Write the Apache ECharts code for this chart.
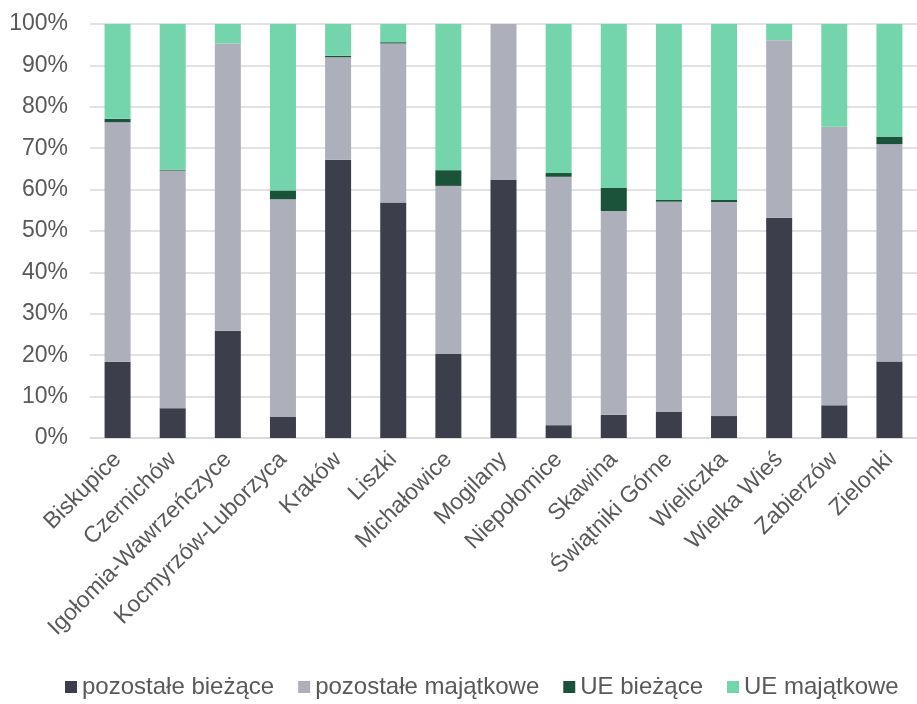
<!DOCTYPE html>
<html>
<head>
<meta charset="utf-8">
<script src="https://cdn.jsdelivr.net/npm/echarts@6/dist/echarts.min.js"></script>
<style>
  html, body { margin: 0; padding: 0; background: #ffffff; }
  #chart { width: 917px; height: 704px; }
</style>
</head>
<body>
<div id="chart"></div>
<script>
// Gminy (categories on the x axis)
const categories = [
  'Biskupice', 'Czernichów', 'Igołomia-Wawrzeńczyce', 'Kocmyrzów-Luborzyca',
  'Kraków', 'Liszki', 'Michałowice', 'Mogilany', 'Niepołomice', 'Skawina',
  'Świątniki Górne', 'Wieliczka', 'Wielka Wieś', 'Zabierzów', 'Zielonki'
];

// Share of each expenditure type, in percent
const pozostaleBiezace    = [18.4,  7.2, 25.9,  5.1, 67.2, 56.9, 20.3, 62.3,  3.1,  5.6,  6.3,  5.3, 53.2,  7.9, 18.5];
const pozostaleMajatkowe  = [57.9, 57.4, 69.4, 52.6, 24.8, 38.4, 40.6, 37.7, 60.0, 49.2, 50.8, 51.7, 42.9, 67.3, 52.5];
const ueBiezace           = [ 0.8,  0.2,  0.0,  2.1,  0.3,  0.3,  3.8,  0.0,  0.9,  5.6,  0.4,  0.5,  0.0,  0.0,  1.8];
const ueMajatkowe         = [22.9, 35.2,  4.7, 40.2,  7.7,  4.4, 35.3,  0.0, 36.0, 39.6, 42.5, 42.5,  3.9, 24.8, 27.2];

const seriesNames = ['pozostałe bieżące', 'pozostałe majątkowe', 'UE bieżące', 'UE majątkowe'];
const seriesData = [pozostaleBiezace, pozostaleMajatkowe, ueBiezace, ueMajatkowe];
const seriesColors = ['#3c3f4b', '#adb0ba', '#1a523a', '#74d5ad'];

const yTicks = [0, 10, 20, 30, 40, 50, 60, 70, 80, 90, 100];

const chart = echarts.init(document.getElementById('chart'));
const fontFamily = '"Liberation Sans", Arial, sans-serif';

chart.setOption({
  animation: false,
  textStyle: { fontFamily: fontFamily, color: '#595959' },
  grid: { left: 90, top: 24, width: 832, height: 414, containLabel: false },
  legend: {
    bottom: 0,
    left: 60,
    itemWidth: 12,
    itemHeight: 12,
    itemGap: 24,
    icon: 'rect',
    textStyle: { fontSize: 24, color: '#595959' },
    data: seriesNames
  },
  xAxis: {
    type: 'category',
    data: categories,
    axisLine: { lineStyle: { color: '#d9d9d9', width: 1.5 } },
    axisTick: { show: false },
    axisLabel: { rotate: 45, fontSize: 23, color: '#595959', margin: 18, interval: 0 }
  },
  yAxis: {
    type: 'value',
    min: 0,
    max: 100,
    interval: 10,
    axisLine: { show: false },
    axisTick: { show: false },
    splitLine: { lineStyle: { color: '#d9d9d9', width: 1.5 } },
    axisLabel: {
      fontSize: 23, color: '#595959', margin: 22,
      formatter: v => (yTicks.includes(v) ? v + '%' : '')
    }
  },
  series: seriesNames.map((name, i) => ({
    name: name,
    type: 'bar',
    stack: 'total',
    barWidth: 26,
    data: seriesData[i],
    itemStyle: { color: seriesColors[i] }
  }))
});
</script>
</body>
</html>
